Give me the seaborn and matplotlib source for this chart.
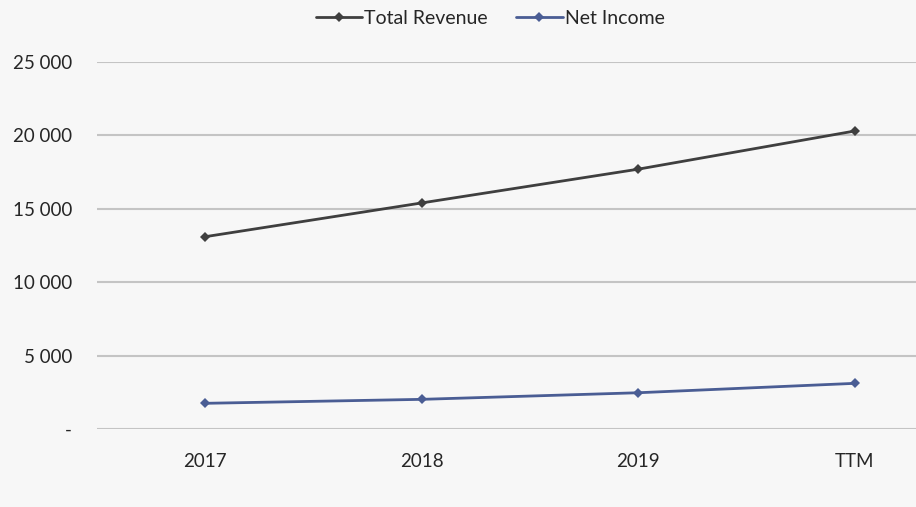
import matplotlib
matplotlib.use("Agg")
import matplotlib.pyplot as plt
import seaborn as sns
import pandas as pd
from matplotlib.ticker import FixedLocator, FuncFormatter

periods = ["2017", "2018", "2019", "TTM"]
total_revenue = [13100, 15400, 17700, 20300]
net_income = [1750, 2020, 2470, 3110]
y_ticks = [0, 5000, 10000, 15000, 20000, 25000]

series_names = ["Total Revenue", "Net Income"]
series_colors = {"Total Revenue": "#3f3f3f", "Net Income": "#4a5d94"}

df = pd.DataFrame({
    "period": periods * 2,
    "value": total_revenue + net_income,
    "series": [series_names[0]] * len(periods) + [series_names[1]] * len(periods),
})

sns.set_theme(style="white")
plt.rcParams["font.family"] = ["Lato", "DejaVu Sans"]

bg = "#f7f7f7"
fig = plt.figure(figsize=(9.16, 5.07), dpi=100, facecolor=bg)
ax = fig.add_axes([97 / 916, 78 / 507, 866 / 916, 367 / 507], facecolor=bg)

sns.lineplot(
    data=df, x="period", y="value", hue="series", style="series",
    hue_order=series_names, style_order=series_names,
    palette=series_colors, markers={"Total Revenue": "D", "Net Income": "D"},
    dashes=False, linewidth=2.0, markersize=5.5, markeredgewidth=0,
    sort=False, ax=ax, legend=True,
)

ax.set_xlim(-0.5, len(periods) - 0.5)
ax.set_ylim(0, 25000)
ax.yaxis.set_major_locator(FixedLocator(y_ticks))
ax.yaxis.set_major_formatter(
    FuncFormatter(lambda v, _: "-" if v == 0 else f"{int(v):,}".replace(",", " "))
)
ax.grid(axis="y", color="#c4c4c4", linewidth=1.5)
ax.set_axisbelow(True)
for s in ax.spines.values():
    s.set_visible(False)
ax.tick_params(axis="both", length=0, labelsize=13.5, colors="#262626")
ax.tick_params(axis="y", pad=18)
ax.tick_params(axis="x", pad=17)
ax.set_xlabel("")
ax.set_ylabel("")

handles, labels = ax.get_legend_handles_labels()
ax.legend(
    handles, labels, loc="center", bbox_to_anchor=(490 / 916, 1 - 18 / 507),
    bbox_transform=fig.transFigure, ncol=2, frameon=False, fontsize=14,
    handlelength=2.4, handletextpad=0.1, columnspacing=1.45,
    labelcolor="#262626",
)

fig.savefig("out.png", dpi=100, facecolor=bg)
